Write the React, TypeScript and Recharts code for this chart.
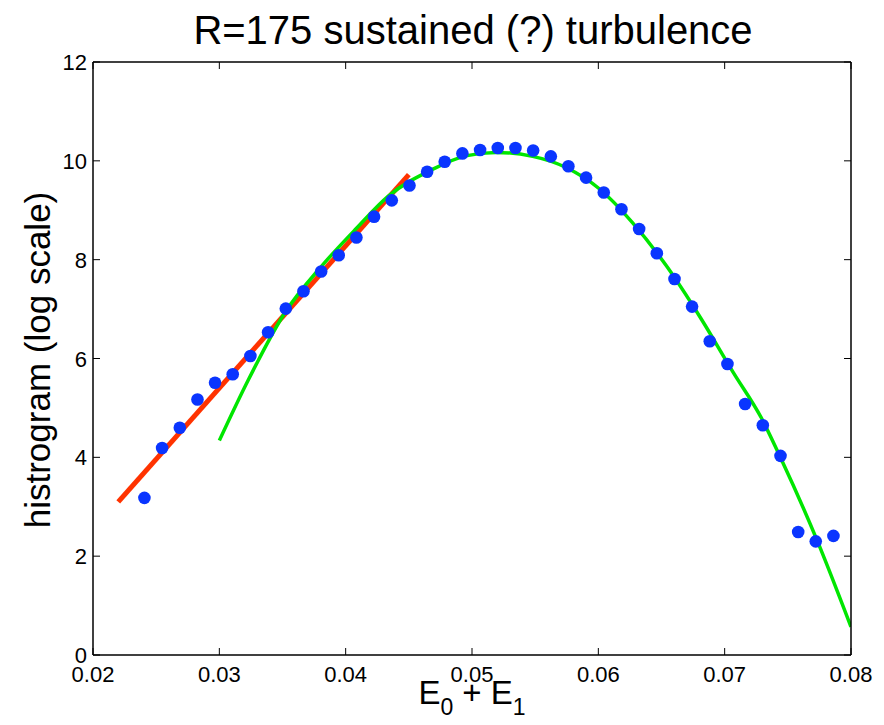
import React from "react";
import { ComposedChart, XAxis, YAxis, Scatter, Line } from "recharts";

// histogram samples (log scale)
const binX = [
  0.02407, 0.02547, 0.02687, 0.02827, 0.02966, 0.03106, 0.03246, 0.03386, 0.03526, 0.03666,
  0.03806, 0.03945, 0.04085, 0.04225, 0.04365, 0.04505, 0.04645, 0.04784, 0.04924, 0.05064,
  0.05204, 0.05344, 0.05484, 0.05624, 0.05763, 0.05903, 0.06043, 0.06183, 0.06323, 0.06463,
  0.06603, 0.06742, 0.06882, 0.07022, 0.07162, 0.07302, 0.07442, 0.07582, 0.07721, 0.07861,
];
const binY = [
  3.18, 4.19, 4.6, 5.17, 5.51, 5.68, 6.05, 6.53, 7.01, 7.36,
  7.76, 8.09, 8.45, 8.87, 9.2, 9.5, 9.78, 9.98, 10.15, 10.22,
  10.26, 10.26, 10.21, 10.09, 9.89, 9.66, 9.36, 9.02, 8.62, 8.13,
  7.61, 7.05, 6.35, 5.89, 5.08, 4.65, 4.03, 2.49, 2.3, 2.41,
];

// straight fit on the left flank
const redX = [0.022, 0.045];
const redY = [3.1, 9.72];

// parabola-like fit through the peak
const greenX = [
  0.03, 0.0323, 0.0352, 0.0381, 0.0408, 0.0434, 0.0469, 0.0495, 0.0519, 0.0548,
  0.0574, 0.0601, 0.0627, 0.0654, 0.068, 0.0707, 0.0729, 0.0745, 0.0773, 0.08,
];
const greenY = [
  4.34, 5.57, 6.93, 7.87, 8.62, 9.29, 9.83, 10.1, 10.17, 10.09,
  9.87, 9.43, 8.75, 7.87, 6.86, 5.71, 4.8, 3.95, 2.33, 0.57,
];

const xTicks = [0.02, 0.03, 0.04, 0.05, 0.06, 0.07, 0.08];
const yTicks = [0, 2, 4, 6, 8, 10, 12];

const zip = (xs: number[], ys: number[]) => xs.map((x, i) => ({ x, y: ys[i] }));
const dots = zip(binX, binY);
const redLine = zip(redX, redY);
const greenLine = zip(greenX, greenY);

const FONT = "'Liberation Sans', Arial, Helvetica, sans-serif";
const TICK = 7;

const BottomTick = (p: any) => (
  <g>
    <line x1={p.x} y1={p.y} x2={p.x} y2={p.y - TICK} stroke="#000" />
    <text x={p.x} y={p.y + 27} textAnchor="middle" fontSize={22} fontFamily={FONT} fill="#000">
      {Number(p.payload.value).toFixed(2)}
    </text>
  </g>
);
const LeftTick = (p: any) => (
  <g>
    <line x1={p.x} y1={p.y} x2={p.x + TICK} y2={p.y} stroke="#000" />
    <text x={p.x - 6} y={p.y + 8} textAnchor="end" fontSize={22} fontFamily={FONT} fill="#000">
      {p.payload.value}
    </text>
  </g>
);
const TopTick = (p: any) => <line x1={p.x} y1={p.y} x2={p.x} y2={p.y + TICK} stroke="#000" />;
const RightTick = (p: any) => <line x1={p.x} y1={p.y} x2={p.x - TICK} y2={p.y} stroke="#000" />;

const Dot = (p: any) => <circle cx={p.cx} cy={p.cy} r={6.3} fill="#0a35ff" />;

const axisLine = { stroke: "#000", strokeWidth: 1.5 };

export default function App() {
  return (
    <div style={{ position: "relative", width: 868, height: 710, fontFamily: FONT }}>
      <ComposedChart width={868} height={710} margin={{ top: 53, right: 24, left: 25, bottom: 23 }}>
        <XAxis
          xAxisId="b"
          type="number"
          dataKey="x"
          domain={[0.02, 0.08]}
          ticks={xTicks}
          allowDataOverflow
          height={40}
          tickSize={0}
          tickMargin={0}
          tickLine={false}
          tick={<BottomTick />}
          axisLine={axisLine}
          interval={0}
        />
        <XAxis
          xAxisId="t"
          orientation="top"
          type="number"
          dataKey="x"
          domain={[0.02, 0.08]}
          ticks={xTicks}
          allowDataOverflow
          height={1}
          tickSize={0}
          tickMargin={0}
          tickLine={false}
          tick={<TopTick />}
          axisLine={axisLine}
          interval={0}
        />
        <YAxis
          yAxisId="l"
          type="number"
          domain={[0, 12]}
          ticks={yTicks}
          allowDataOverflow
          width={60}
          tickSize={0}
          tickMargin={0}
          tickLine={false}
          tick={<LeftTick />}
          axisLine={axisLine}
          interval={0}
        />
        <YAxis
          yAxisId="r"
          orientation="right"
          type="number"
          domain={[0, 12]}
          ticks={yTicks}
          allowDataOverflow
          width={1}
          tickSize={0}
          tickMargin={0}
          tickLine={false}
          tick={<RightTick />}
          axisLine={axisLine}
          interval={0}
        />
        {/* invisible series so the top/right frame axes get drawn */}
        <Line
          xAxisId="t"
          yAxisId="r"
          data={redLine}
          dataKey="y"
          stroke="none"
          dot={false}
          activeDot={false}
          isAnimationActive={false}
        />
        <Line
          xAxisId="b"
          yAxisId="l"
          data={redLine}
          dataKey="y"
          type="linear"
          stroke="#ff3300"
          strokeWidth={5}
          dot={false}
          activeDot={false}
          isAnimationActive={false}
        />
        <Line
          xAxisId="b"
          yAxisId="l"
          data={greenLine}
          dataKey="y"
          type="monotone"
          stroke="#00e600"
          strokeWidth={3.5}
          dot={false}
          activeDot={false}
          isAnimationActive={false}
        />
        <Scatter
          xAxisId="b"
          yAxisId="l"
          data={dots}
          dataKey="y"
          shape={<Dot />}
          isAnimationActive={false}
        />
      </ComposedChart>
      <div style={{ position: "absolute", left: 0, top: 0, width: 930, textAlign: "center", fontSize: 40, lineHeight: "44px", color: "#000" }}>
        R=175 sustained (?) turbulence
      </div>
      <div
        style={{
          position: "absolute",
          left: 30,
          top: 352,
          transform: "translate(-50%, -50%) rotate(-90deg)",
          whiteSpace: "nowrap",
          fontSize: 35,
          color: "#000",
        }}
      >
        histrogram (log scale)
      </div>
      <div style={{ position: "absolute", left: 0, top: 667, width: 928, textAlign: "center", fontSize: 33, lineHeight: "36px", color: "#000", whiteSpace: "nowrap" }}>
        E<sub style={{ fontSize: 23, verticalAlign: -11 }}>0</sub> + E<sub style={{ fontSize: 23, verticalAlign: -11 }}>1</sub>
      </div>
    </div>
  );
}
